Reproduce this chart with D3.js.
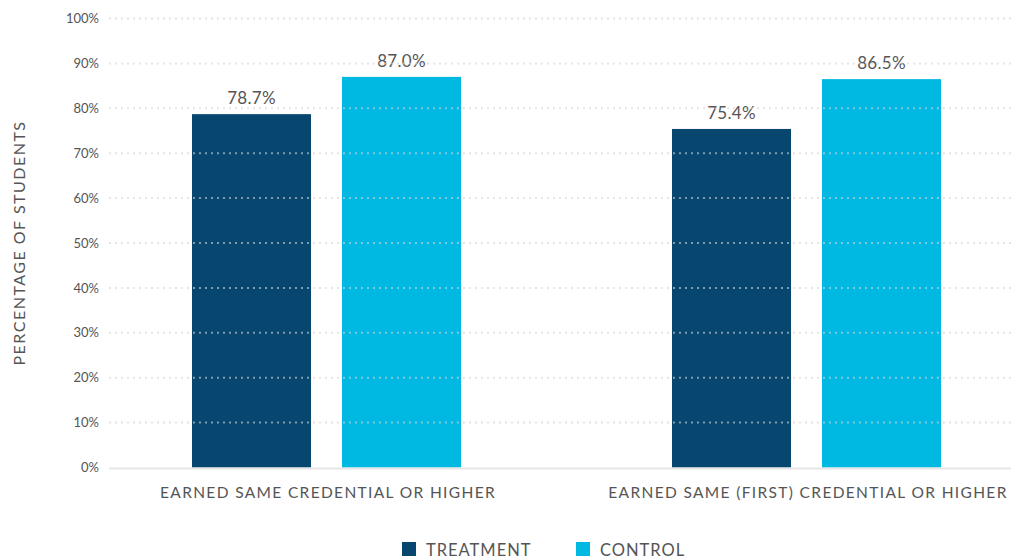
<!DOCTYPE html>
<html>
<head>
<meta charset="utf-8">
<script src="https://cdn.jsdelivr.net/npm/d3@7"></script>
<style>
  html, body { margin: 0; padding: 0; background: #fff; }
  svg { display: block; font-family: Lato, "Open Sans", sans-serif; }
</style>
</head>
<body>
<svg id="chart" width="1011" height="557"></svg>
<script>
// Outcome categories and the two study groups
const categories = ["EARNED SAME CREDENTIAL OR HIGHER", "EARNED SAME (FIRST) CREDENTIAL OR HIGHER"];
const groups = ["TREATMENT", "CONTROL"];
const treatmentValues = [78.7, 75.4];
const controlValues = [87.0, 86.5];
const yTicks = [0, 10, 20, 30, 40, 50, 60, 70, 80, 90, 100];

const colors = { TREATMENT: "#07476f", CONTROL: "#00b9e3" };
const textColor = "#555";
const font = "Lato, 'Open Sans', sans-serif";

const rows = categories.map((c, i) => ({
  category: c,
  values: [
    { group: "TREATMENT", value: treatmentValues[i] },
    { group: "CONTROL", value: controlValues[i] }
  ]
}));

const svg = d3.select("#chart");

const plotLeft = 109, plotRight = 1011;
const y = d3.scaleLinear().domain([0, 100]).range([467.5, 18.5]);
const x0 = d3.scaleBand().domain(categories).range([88, 1048]).padding(0);
const x1 = d3.scaleBand().domain(groups).range([104, 373]).paddingInner(31 / 150).paddingOuter(0);

// Bars
const g = svg.append("g");
const cat = g.selectAll("g.cat").data(rows).join("g")
  .attr("class", "cat")
  .attr("transform", d => `translate(${x0(d.category)},0)`);

cat.selectAll("rect").data(d => d.values).join("rect")
  .attr("x", d => x1(d.group))
  .attr("width", x1.bandwidth())
  .attr("y", d => y(d.value))
  .attr("height", d => y(0) - y(d.value))
  .attr("fill", d => colors[d.group]);

// Value labels
cat.selectAll("text.val").data(d => d.values).join("text")
  .attr("class", "val")
  .attr("x", d => x1(d.group) + x1.bandwidth() / 2)
  .attr("y", d => y(d.value) - 10)
  .attr("text-anchor", "middle")
  .attr("font-size", 17)
  .attr("letter-spacing", 0.3)
  .attr("fill", textColor)
  .text(d => d.value.toFixed(1) + "%");

// Dotted gridlines sit over the bars
svg.append("g").selectAll("line.grid").data(yTicks.filter(t => t > 0)).join("line")
  .attr("class", "grid")
  .attr("x1", plotLeft).attr("x2", plotRight)
  .attr("y1", d => y(d)).attr("y2", d => y(d))
  .attr("stroke", "#d4d4d4")
  .attr("stroke-opacity", 0.6)
  .attr("stroke-width", 2)
  .attr("stroke-dasharray", "2 4");

// Baseline
svg.append("line")
  .attr("x1", plotLeft).attr("x2", plotRight)
  .attr("y1", y(0) + 1).attr("y2", y(0) + 1)
  .attr("stroke", "#e6e6e6").attr("stroke-width", 2);

// Y axis
const yAxis = d3.axisLeft(y).tickValues(yTicks).tickFormat(d => d + "%").tickSize(0).tickPadding(0);
const ya = svg.append("g").attr("transform", "translate(99,0)").call(yAxis);
ya.select(".domain").remove();
ya.selectAll("text")
  .attr("font-family", font)
  .attr("font-size", 13)
  .attr("fill", textColor);

// X axis category labels
const xAxis = d3.axisBottom(x0).tickSize(0).tickPadding(0);
const xa = svg.append("g").attr("transform", "translate(0,487)").call(xAxis);
xa.select(".domain").remove();
xa.selectAll("text")
  .attr("font-family", font)
  .attr("font-size", 15.5)
  .attr("letter-spacing", 1.35)
  .attr("fill", textColor)
  .attr("dy", "0.71em");

// Y axis title
svg.append("text")
  .attr("transform", "translate(25,243) rotate(-90)")
  .attr("text-anchor", "middle")
  .attr("font-size", 16)
  .attr("letter-spacing", 1.5)
  .attr("fill", textColor)
  .text("PERCENTAGE OF STUDENTS");

// Legend
const legendPos = [402, 576];
const lg = svg.append("g").selectAll("g").data(groups).join("g")
  .attr("transform", (d, i) => `translate(${legendPos[i]},542)`);
lg.append("rect").attr("width", 14).attr("height", 14).attr("fill", d => colors[d]);
lg.append("text")
  .attr("x", 24).attr("y", 14)
  .attr("font-size", 16.5)
  .attr("letter-spacing", 1)
  .attr("fill", textColor)
  .text(d => d);
</script>
</body>
</html>
